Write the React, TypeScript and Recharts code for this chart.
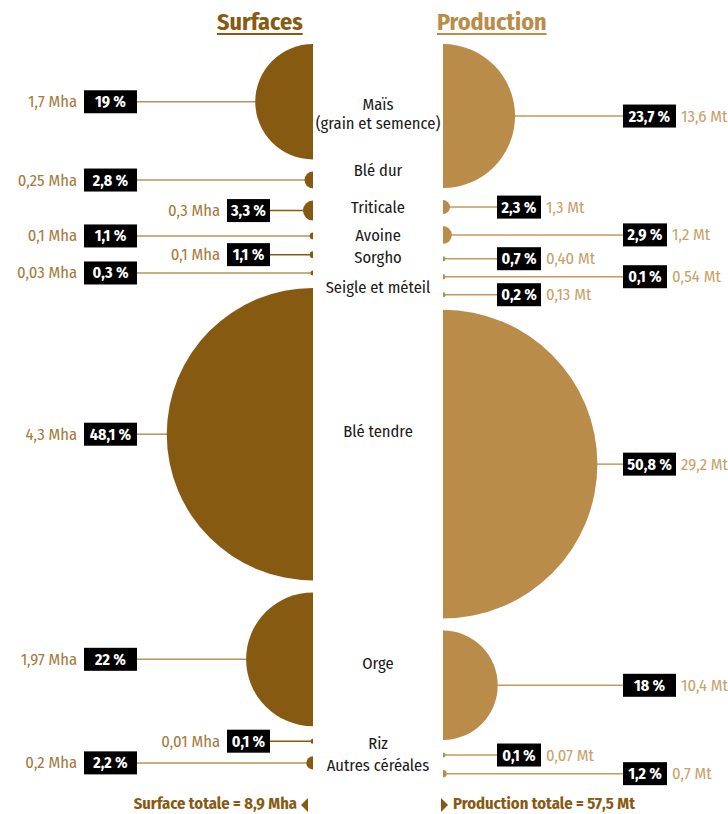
import React from "react";
import { ScatterChart, Scatter, XAxis, YAxis } from "recharts";

// cereal crops, top to bottom
const crops = [
  "Maïs\n(grain et semence)",
  "Blé dur",
  "Triticale",
  "Avoine",
  "Sorgho",
  "Seigle et méteil",
  "Blé tendre",
  "Orge",
  "Riz",
  "Autres céréales",
];

// share of total surface (%) and area
const surfacePct = [19, 2.8, 3.3, 1.1, 1.1, 0.3, 48.1, 22, 0.1, 2.2];
const surfaceArea = ["1,7", "0,25", "0,3", "0,1", "0,1", "0,03", "4,3", "1,97", "0,01", "0,2"];

// share of total production (%) and tonnage
const productionPct = [23.7, 2.3, 2.9, 0.7, 0.1, 0.2, 50.8, 18, 0.1, 1.2];
const productionMt = ["13,6", "1,3", "1,2", "0,40", "0,54", "0,13", "29,2", "10,4", "0,07", "0,7"];

const W = 728;
const H = 814;
const LEFT_EDGE = 313;
const RIGHT_EDGE = 443;
const MID = 378;
const PX_PER_PCT = 3.04;
const TOP = 44;
const GAP = 12;
const MIN_R = 3;

const DARK = "#875a12";
const LIGHT = "#b98c4a";
const FONT = "'Fira Sans Condensed','Liberation Sans Narrow','Roboto Condensed','DejaVu Sans Condensed',sans-serif";

// label placement (alternating to avoid collisions)
const LEFT_NEAR = [2, 4, 8];
const RIGHT_NEAR = [1, 3, 5, 8];
const LABEL_NUDGE = [12, -10, -3, 0, 3, 15, -3, 4, 2, 3];

const fmtPct = (v: number) => `${String(v).replace(".", ",")} %`;

const stack = (pcts: number[]) => {
  const r = pcts.map((p) => Math.max(p * PX_PER_PCT, MIN_R));
  const ys: number[] = [];
  let y = TOP + r[0];
  ys.push(y);
  for (let i = 1; i < r.length; i++) {
    y += r[i - 1] + r[i] + GAP;
    ys.push(y);
  }
  return ys;
};

const leftY = stack(surfacePct);
const rightY = stack(productionPct);

const surfaceData = crops.map((c, i) => ({
  x: LEFT_EDGE, y: leftY[i], pct: surfacePct[i], amount: surfaceArea[i], i,
}));
const productionData = crops.map((c, i) => ({
  x: RIGHT_EDGE, y: rightY[i], pct: productionPct[i], amount: productionMt[i], i,
}));
const labelData = crops.map((c, i) => ({ x: MID, y: leftY[i] + LABEL_NUDGE[i], name: c }));

const LeftMark = (props: any) => {
  const { cx, cy, payload } = props;
  const r = Math.max(payload.pct * PX_PER_PCT, 2.5);
  const near = LEFT_NEAR.includes(payload.i);
  const boxR = near ? 270 : 137;
  const boxW = near ? 43 : 53;
  return (
    <g>
      <line x1={boxR} x2={cx - r + 1} y1={cy} y2={cy} stroke={near ? DARK : "#b8935a"} strokeWidth={1.5} />
      <path d={`M${cx},${cy - r} A${r},${r} 0 0 0 ${cx},${cy + r} Z`} fill={DARK} />
      <rect x={boxR - boxW} y={cy - 11.5} width={boxW} height={23} fill="#000" />
      <text x={boxR - boxW / 2} y={cy + 5.5} textAnchor="middle" fill="#fff" fontSize={16} fontWeight={700} fontFamily={FONT}>
        {fmtPct(payload.pct)}
      </text>
      <text x={boxR - boxW - 7} y={cy + 5.5} textAnchor="end" fill="#a57a3c" fontSize={16.5} fontFamily={FONT}>
        {payload.amount} Mha
      </text>
    </g>
  );
};

const RightMark = (props: any) => {
  const { cx, cy, payload } = props;
  const r = Math.max(payload.pct * PX_PER_PCT, 2.5);
  const near = RIGHT_NEAR.includes(payload.i);
  const boxL = near ? 497 : 623;
  const boxW = payload.pct >= 10 ? 53 : 44;
  return (
    <g>
      <line x1={cx + r - 1} x2={boxL} y1={cy} y2={cy} stroke="#c49a5a" strokeWidth={1.5} />
      <path d={`M${cx},${cy - r} A${r},${r} 0 0 1 ${cx},${cy + r} Z`} fill={LIGHT} />
      <rect x={boxL} y={cy - 11.5} width={boxW} height={23} fill="#000" />
      <text x={boxL + boxW / 2} y={cy + 5.5} textAnchor="middle" fill="#fff" fontSize={16} fontWeight={700} fontFamily={FONT}>
        {fmtPct(payload.pct)}
      </text>
      <text x={boxL + boxW + 5} y={cy + 5.5} textAnchor="start" fill="#c9a166" fontSize={16.5} fontFamily={FONT}>
        {payload.amount} Mt
      </text>
    </g>
  );
};

const CenterLabel = (props: any) => {
  const { cx, cy, payload } = props;
  const lines = String(payload.name).split("\n");
  const lh = 19;
  const start = cy - ((lines.length - 1) * lh) / 2 + 5.5;
  return (
    <text textAnchor="middle" fill="#1a1a1a" fontSize={16.5} fontFamily={FONT}>
      {lines.map((l: string, k: number) => (
        <tspan key={k} x={cx} y={start + k * lh}>{l}</tspan>
      ))}
    </text>
  );
};

const titleStyle: React.CSSProperties = {
  position: "absolute",
  top: 8,
  fontFamily: FONT,
  fontWeight: 700,
  fontSize: 24,
  textDecoration: "underline",
  textUnderlineOffset: 3,
  margin: 0,
};

const footStyle: React.CSSProperties = {
  position: "absolute",
  top: 794,
  fontFamily: FONT,
  fontWeight: 700,
  fontSize: 16.5,
  color: DARK,
  whiteSpace: "nowrap",
};

export default function App() {
  return (
    <div style={{ position: "absolute", left: 0, top: 0, width: W, height: H, background: "#fff" }}>
      <div style={{ ...titleStyle, left: 217, color: DARK }}>Surfaces</div>
      <div style={{ ...titleStyle, left: 437, color: LIGHT }}>Production</div>
      <ScatterChart width={W} height={H} margin={{ top: 0, right: 0, bottom: 0, left: 0 }}>
        <XAxis type="number" dataKey="x" domain={[0, W]} hide />
        <YAxis type="number" dataKey="y" domain={[0, H]} reversed hide />
        <Scatter data={surfaceData} shape={LeftMark} isAnimationActive={false} />
        <Scatter data={productionData} shape={RightMark} isAnimationActive={false} />
        <Scatter data={labelData} shape={CenterLabel} isAnimationActive={false} />
      </ScatterChart>
      <div style={{ ...footStyle, right: W - 297, textAlign: "right" }}>Surface totale = 8,9 Mha</div>
      <svg style={{ position: "absolute", left: 300, top: 798 }} width={10} height={16}>
        <polygon points="8,0 8,14 1,7" fill={DARK} />
      </svg>
      <svg style={{ position: "absolute", left: 440, top: 798 }} width={10} height={16}>
        <polygon points="1,0 1,14 8,7" fill={DARK} />
      </svg>
      <div style={{ ...footStyle, left: 453 }}>Production totale = 57,5 Mt</div>
    </div>
  );
}
